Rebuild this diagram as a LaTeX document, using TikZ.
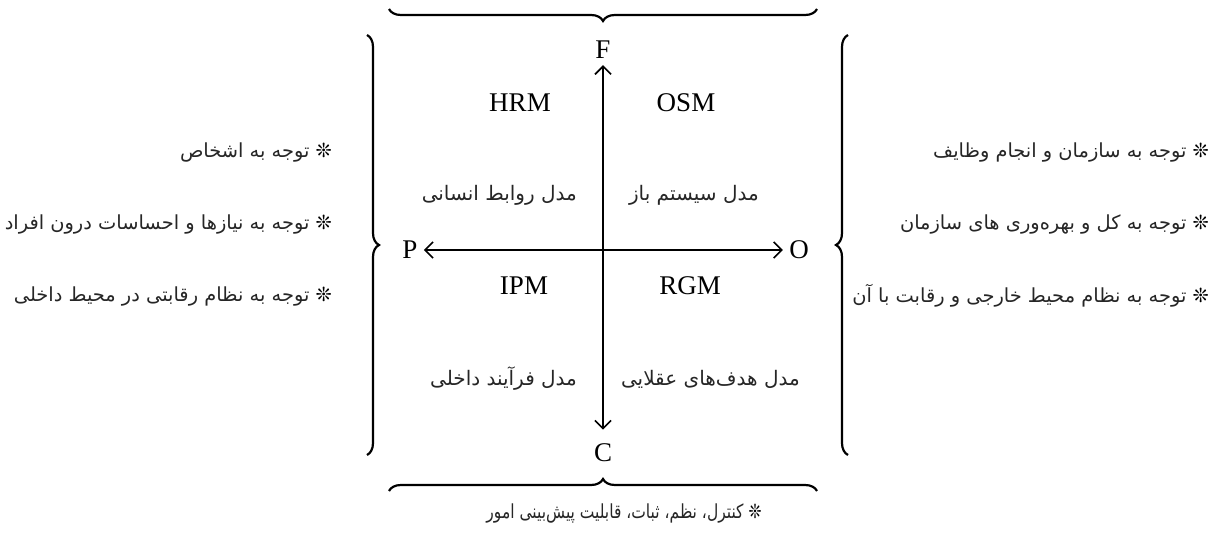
\documentclass[tikz,border=0pt]{standalone}
\usepackage{fontspec}
\setmainfont{Liberation Serif}
\newfontfamily\farsi[Script=Arabic]{DejaVu Sans}
\TeXXeTstate=1
\usetikzlibrary{arrows.meta,positioning,decorations.pathreplacing}
\newcommand\fa[1]{\beginR #1\endR}
\newcommand\flower{{\color{black!45}❊}}
\tikzset{
	>={Straight Barb[length=4pt, width=8pt]},
	axis/.style={<->, thick},
	pole/.style={font=\fontsize{13.5}{16}\selectfont, inner sep=3pt},
	model/.style={font=\fontsize{13.5}{16}\selectfont},
	modelfa/.style={font=\farsi\fontsize{10}{12}\selectfont, text=black!85},
	note/.style={font=\farsi\fontsize{9.7}{12}\selectfont, text=black!85, anchor=east},
	bigbrace/.style={decorate, decoration={brace, amplitude=6pt}, line width=1.1pt}
}
\begin{document}
\begin{tikzpicture}[x=0.5pt, y=-0.5pt]
	\useasboundingbox (0,0) rectangle (1226,540);
	% the two axes
	\node[pole] (F) at (603,50) {F};
	\node[pole, inner ysep=7pt] (C) at (603,453) {C};
	\node[pole] (P) at (410,250) {P};
	\node[pole] (O) at (799,250) {O};
	\draw[axis] (F) -- (C);
	\draw[axis] (P) -- (O);
	% the four models
	\node[model] (hrm) at (520,103) {HRM};
	\node[model] (osm) at (686,103) {OSM};
	\node[model] (ipm) at (524,286) {IPM};
	\node[model] (rgm) at (690,286) {RGM};
	\node[modelfa, anchor=east] (hrmfa) at (584,195) {\fa{مدل روابط انسانی}};
	\node[modelfa, anchor=west] (osmfa) at (622,195) {\fa{مدل سیستم باز}};
	\node[modelfa, anchor=east] (ipmfa) at (584,379) {\fa{مدل فرآیند داخلی}};
	\node[modelfa, anchor=west] (rgmfa) at (614,379) {\fa{مدل هدف‌های عقلایی}};
	% braces round the square
	\draw[bigbrace] (817,9) -- (389,9);
	\draw[bigbrace] (389,491) -- (817,491);
	\draw[bigbrace] (367,35) -- (367,455);
	\draw[bigbrace] (848,455) -- (848,35);
	% notes
	\node[note] (left1) at (339,152) {\fa{\flower{} توجه به اشخاص}};
	\node[note] (left2) at (339,224) {\fa{\flower{} توجه به نیازها و احساسات درون افراد}};
	\node[note] (left3) at (339,296) {\fa{\flower{} توجه به نظام رقابتی در محیط داخلی}};
	\node[note] (right1) at (1216,152) {\fa{\flower{} توجه به سازمان و انجام وظایف}};
	\node[note] (right2) at (1216,224) {\fa{\flower{} توجه به کل و بهره‌وری های سازمان}};
	\node[note] (right3) at (1216,296) {\fa{\flower{} توجه به نظام محیط خارجی و رقابت با آن}};
	\node[note, anchor=center] (bottom) at (624,513) {\scalebox{0.8}[1]{\fa{\flower{} کنترل، نظم، ثبات، قابلیت پیش‌بینی امور}}};
\end{tikzpicture}
\end{document}
